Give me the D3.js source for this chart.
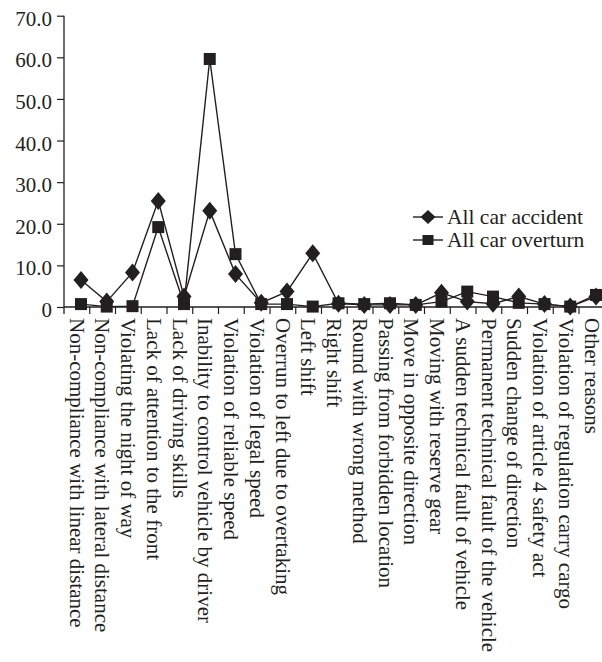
<!DOCTYPE html>
<html>
<head>
<meta charset="utf-8">
<script src="https://cdn.jsdelivr.net/npm/d3@7"></script>
<style>
html,body{margin:0;padding:0;background:#fff;}
svg text{font-family:"Liberation Serif","Times New Roman",Tinos,"Nimbus Roman","DejaVu Serif",serif !important;fill:#231f20;}
</style>
</head>
<body>
<svg id="chart" width="602" height="662"></svg>
<script>
const categories = [
  "Non-compliance with linear distance",
  "Non-compliance with lateral distance",
  "Violating the night of way",
  "Lack of attention to the front",
  "Lack of driving skills",
  "Inability to control vehicle by driver",
  "Violation of reliable speed",
  "Violation of legal speed",
  "Overrun to left due to overtaking",
  "Left shift",
  "Right shift",
  "Round with wrong method",
  "Passing from forbidden location",
  "Move in opposite direction",
  "Moving with reserve gear",
  "A sudden technical fault of vehicle",
  "Permanent technical fault of the vehicle",
  "Sudden change of direction",
  "Violation of article 4 safety act",
  "Violation of regulation carry cargo",
  "Other reasons"
];
const accident = [6.5, 1.3, 8.3, 25.5, 2.5, 23.1, 7.9, 1.0, 3.7, 12.9, 0.8, 0.5, 0.5, 0.5, 3.4, 1.3, 0.8, 2.5, 0.7, 0.1, 2.5];
const overturn = [0.7, 0.1, 0.2, 19.2, 0.7, 59.6, 12.7, 0.7, 0.7, 0.1, 0.9, 0.7, 0.9, 0.5, 1.3, 3.7, 2.5, 1.0, 0.7, 0.1, 2.9];
const seriesNames = ["All car accident", "All car overturn"];
const yTicks = [0, 10, 20, 30, 40, 50, 60, 70];

const ink = "#231f20";
const serif = '"Liberation Serif","Times New Roman",Tinos,"Nimbus Roman","DejaVu Serif",serif';
const svg = d3.select("#chart");

const x = d3.scaleBand().domain(categories).range([64, 64 + 21 * 25.75]).paddingInner(0).paddingOuter(0);
const y = d3.scaleLinear().domain([0, 70]).range([307, 15.7]);
const markerOffset = x.bandwidth() * 0.66;
const px = c => x(c) + markerOffset;

// Y axis
const yAxis = d3.axisLeft(y).tickValues(yTicks).tickSize(7).tickPadding(5)
  .tickFormat(d => d === 0 ? "0" : d3.format(".1f")(d));
const gy = svg.append("g").attr("transform", "translate(64,0)").call(yAxis)
  .attr("font-family", serif);
gy.select(".domain").remove();
gy.selectAll(".tick line").attr("stroke", ink).attr("stroke-width", 1.2);
gy.selectAll(".tick text").attr("font-size", 21).attr("dy", null).attr("y", 9.5)
  .attr("x", -12).attr("font-family", serif).style("fill", ink);
svg.append("line").attr("x1", 64).attr("x2", 64).attr("y1", y(70)).attr("y2", 314)
  .attr("stroke", ink).attr("stroke-width", 1.3);

// X axis
svg.append("line").attr("x1", 64).attr("x2", 602).attr("y1", y(0)).attr("y2", y(0))
  .attr("stroke", ink).attr("stroke-width", 1.3);
svg.append("g").selectAll("line").data(categories.slice(1)).join("line")
  .attr("x1", d => x(d)).attr("x2", d => x(d))
  .attr("y1", y(0)).attr("y2", y(0) + 7)
  .attr("stroke", ink).attr("stroke-width", 1.2);

svg.append("g").selectAll("text").data(categories).join("text")
  .attr("transform", d => `translate(${x(d) + 5.5},318) rotate(90)`)
  .attr("font-size", 21)
  .attr("font-family", serif)
  .attr("text-anchor", "start")
  .text(d => d);

// Lines
const line = d3.line().x((d, i) => px(categories[i])).y(d => y(d));
svg.append("path").datum(accident).attr("d", line).attr("fill", "none")
  .attr("stroke", ink).attr("stroke-width", 1.4);
svg.append("path").datum(overturn).attr("d", line).attr("fill", "none")
  .attr("stroke", ink).attr("stroke-width", 1.4);

const diamond = (w, h) => `M0,${-h/2}L${w/2},0L0,${h/2}L${-w/2},0Z`;

svg.append("g").selectAll("path").data(accident).join("path")
  .attr("transform", (d, i) => `translate(${px(categories[i])},${y(d)})`)
  .attr("d", diamond(15, 18)).attr("fill", ink);

svg.append("g").selectAll("rect").data(overturn).join("rect")
  .attr("x", (d, i) => px(categories[i]) - 6)
  .attr("y", d => y(d) - 6)
  .attr("width", 12).attr("height", 12).attr("fill", ink);

// Legend
const legend = svg.append("g");
const rows = [217, 240];
seriesNames.forEach((name, i) => {
  const g = legend.append("g").attr("transform", `translate(0,${rows[i]})`);
  g.append("line").attr("x1", 413).attr("x2", 443).attr("y1", 0).attr("y2", 0)
    .attr("stroke", ink).attr("stroke-width", 1.4);
  if (i === 0) {
    g.append("path").attr("transform", "translate(428,0)").attr("d", diamond(15, 14)).attr("fill", ink);
  } else {
    g.append("rect").attr("x", 422.5).attr("y", -5).attr("width", 11).attr("height", 10).attr("fill", ink);
  }
  g.append("text").attr("x", 447).attr("y", 7).attr("font-size", 21.5)
    .attr("font-family", serif).text(name);
});
</script>
</body>
</html>
